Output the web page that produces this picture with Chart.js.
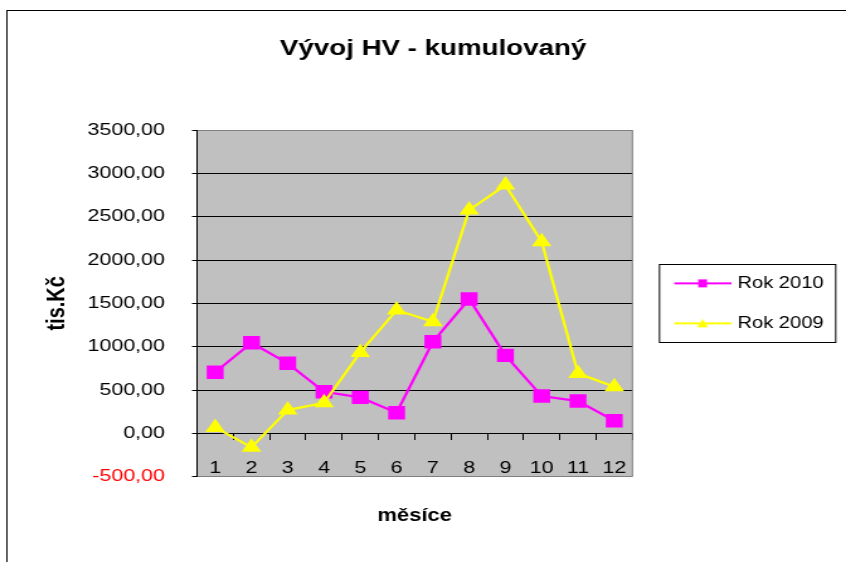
<!DOCTYPE html>
<html>
<head>
<meta charset="utf-8">
<script src="https://cdn.jsdelivr.net/npm/chart.js@4.4.1/dist/chart.umd.min.js"></script>
<style>
html, body { margin: 0; padding: 0; background: #fff; overflow: hidden; }
/* the original picture is stretched sideways, so draw narrow and scale */
#wrap { position: absolute; left: 0; top: 0; width: 688px; height: 562px; transform: scaleX(1.259); transform-origin: 0 0; }
</style>
</head>
<body>
<div id="wrap"><canvas id="chart" width="688" height="562"></canvas></div>
<script>
var months = ['1', '2', '3', '4', '5', '6', '7', '8', '9', '10', '11', '12'];
var rok2010 = [705, 1045, 808, 480, 415, 238, 1057, 1550, 900, 430, 373, 146];
var rok2009 = [69, -161, 269, 353, 934, 1423, 1288, 2577, 2865, 2211, 692, 538];
var yTickValues = [-500, 0, 500, 1000, 1500, 2000, 2500, 3000, 3500];
var seriesNames = ['Rok 2010', 'Rok 2009'];
var chartTitle = 'Vývoj HV - kumulovaný';
var xTitle = 'měsíce';
var yTitle = 'tis.Kč';

var FONT = '"Liberation Sans", Arial, sans-serif';

// line + marker sample, like the excel legend
function legendIcon(color, style) {
	var c = document.createElement('canvas');
	c.width = 57;
	c.height = 16;
	var g = c.getContext('2d');
	g.strokeStyle = color;
	g.lineWidth = 2;
	g.beginPath();
	g.moveTo(12, 8);
	g.lineTo(57, 8);
	g.stroke();
	g.fillStyle = color;
	if (style == 'rect') {
		g.fillRect(31, 4, 7, 8);
	} else {
		g.beginPath();
		g.moveTo(34.5, 3.5);
		g.lineTo(38.8, 12);
		g.lineTo(30.2, 12);
		g.closePath();
		g.fill();
	}
	return c;
}

var excelFrame = {
	id: 'excelFrame',
	beforeDraw: function(chart) {
		var ctx = chart.ctx, a = chart.chartArea;
		ctx.save();
		ctx.fillStyle = '#fff';
		ctx.fillRect(0, 0, chart.width, chart.height);
		ctx.strokeStyle = '#000';
		ctx.lineWidth = 1;
		ctx.strokeRect(5.5, 10.5, chart.width + 20, chart.height + 20);
		ctx.fillStyle = '#c0c0c0';
		ctx.fillRect(a.left, a.top, a.right - a.left, a.bottom - a.top);
		ctx.restore();
	},
	beforeDatasetsDraw: function(chart) {
		var ctx = chart.ctx, a = chart.chartArea;
		ctx.save();
		ctx.strokeStyle = '#808080';
		ctx.lineWidth = 1;
		ctx.beginPath();
		ctx.moveTo(a.right, a.top);
		ctx.lineTo(a.right, a.bottom);
		ctx.stroke();
		ctx.restore();
	},
	afterDraw: function(chart) {
		var ctx = chart.ctx, lg = chart.legend, hb = lg.legendHitBoxes;
		if (!hb || !hb.length) return;
		var left = lg.left + 21.5;
		var top = hb[0].top + 8 - 19;
		var bottom = hb[hb.length - 1].top + 8 + 19;
		ctx.save();
		ctx.strokeStyle = '#000';
		ctx.lineWidth = 1;
		ctx.strokeRect(left, Math.round(top) + 0.5, 140, Math.round(bottom - top));
		ctx.restore();
	}
};

var config = {
	type: 'line',
	data: {
		labels: months,
		datasets: [{
			label: seriesNames[0],
			data: rok2010,
			borderColor: '#ff00ff',
			backgroundColor: '#ff00ff',
			borderWidth: 2.25,
			pointStyle: 'rect',
			pointRadius: 9.5,
			pointBorderWidth: 0,
			order: 1
		}, {
			label: seriesNames[1],
			data: rok2009,
			borderColor: '#ffff00',
			backgroundColor: '#ffff00',
			borderWidth: 2.25,
			pointStyle: 'triangle',
			pointRadius: 9,
			pointBorderWidth: 0,
			order: 0
		}]
	},
	options: {
		responsive: false,
		animation: false,
		layout: { padding: { left: 23.8, right: 23.8, top: 0, bottom: 0 } },
		plugins: {
			tooltip: { enabled: false },
			title: {
				display: true,
				text: chartTitle,
				color: '#000',
				font: { family: FONT, size: 22, weight: 'bold' },
				padding: { top: 35.8, bottom: 67.8 }
			},
			legend: {
				position: 'right',
				fullSize: false,
				maxWidth: 220,
				labels: {
					usePointStyle: true,
					pointStyleWidth: 51.4,
					padding: 24,
					color: '#000',
					font: { family: FONT, size: 16 },
					generateLabels: function(chart) {
						return chart.data.datasets.map(function(ds, i) {
							return {
								text: ds.label,
								pointStyle: legendIcon(ds.borderColor, ds.pointStyle),
								fillStyle: ds.borderColor,
								strokeStyle: ds.borderColor,
								lineWidth: 0,
								fontColor: '#000',
								hidden: false,
								datasetIndex: i
							};
						});
					}
				}
			}
		},
		scales: {
			x: {
				type: 'category',
				position: { y: 0 },
				offset: true,
				grid: { offset: true, drawOnChartArea: false, drawTicks: true, tickLength: 6, color: '#000', tickColor: '#000' },
				border: { display: true, color: '#000', width: 1 },
				ticks: { color: '#000', font: { family: FONT, size: 17 }, padding: 18.7, maxRotation: 0, autoSkip: false }
			},
			x2: {
				type: 'category',
				position: 'bottom',
				offset: true,
				grid: { display: false, drawTicks: false },
				border: { display: false },
				ticks: { display: false },
				title: {
					display: true,
					text: xTitle,
					color: '#000',
					font: { family: FONT, size: 17.5, weight: 'bold' },
					padding: { top: 28.8, bottom: 35.5 }
				}
			},
			y: {
				type: 'linear',
				position: 'left',
				min: yTickValues[0],
				max: yTickValues[yTickValues.length - 1],
				afterBuildTicks: function(scale) {
					scale.ticks = yTickValues.map(function(v) { return { value: v }; });
				},
				afterFit: function(scale) {
					scale.width = 132.7;
				},
				grid: {
					color: function(c) {
						var v = c.tick ? c.tick.value : 0;
						return (v == yTickValues[0] || v == yTickValues[yTickValues.length - 1]) ? '#808080' : '#000';
					},
					tickColor: '#000',
					tickLength: 4,
					lineWidth: 1
				},
				border: { color: '#000', width: 1 },
				ticks: {
					color: function(c) { return c.tick.value < 0 ? '#ff0000' : '#000'; },
					font: { family: FONT, size: 17 },
					padding: 21.5,
					callback: function(v) { return Number(v).toFixed(2).replace('.', ','); }
				},
				title: {
					display: true,
					text: yTitle,
					color: '#000',
					font: { family: FONT, size: 20, weight: 'bold' },
					padding: { top: 9.7, bottom: 0 }
				}
			}
		}
	},
	plugins: [excelFrame]
};

window.hv_chart = new Chart(document.getElementById('chart').getContext('2d'), config);
</script>
</body>
</html>
